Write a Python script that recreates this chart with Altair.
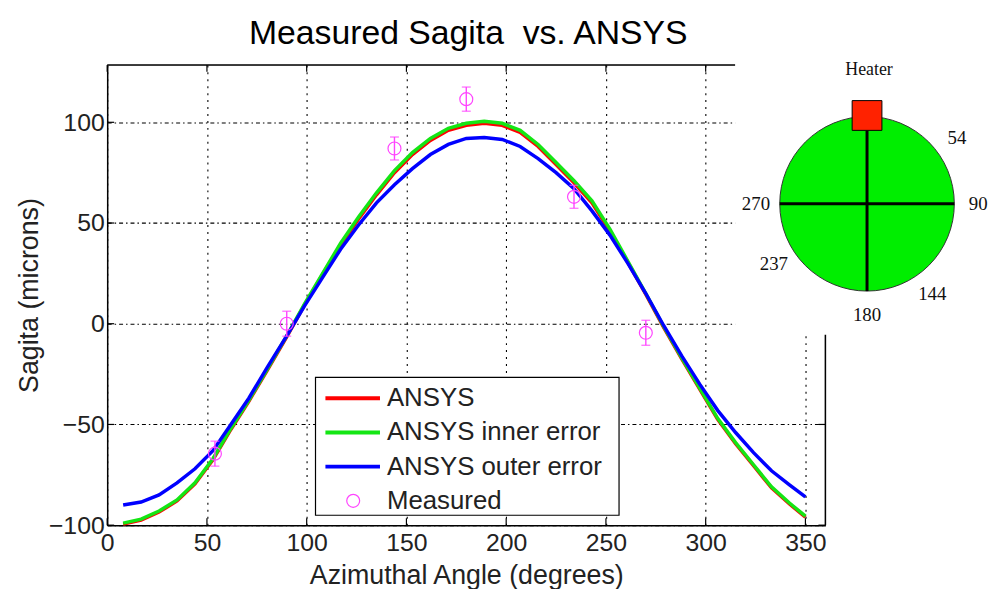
import altair as alt
import pandas as pd

# ---------------- data ----------------
angles = [8, 17, 26, 35, 44, 53, 62, 71, 80, 90, 99, 108, 117, 126, 135, 144, 153, 162, 171,
          180, 189, 198, 207, 216, 225, 234, 243, 252, 261, 270, 279, 288, 297, 306, 315, 324,
          333, 342, 350]
ansys = [-99.5, -97.5, -93.5, -88, -79.5, -67.5, -52.5, -38.5, -23.5, -6.5, 9.5, 24.5, 39, 52,
         64, 75, 84, 91, 96, 98.5, 99.5, 98.5, 95, 88, 79, 70, 60, 46, 30.5, 14.5, -2, -17.5,
         -32.5, -47.5, -59.5, -70.5, -81.5, -89.5, -96]
inner = [-99, -97, -93, -87.5, -79, -67, -52, -38, -23, -6, 10, 25, 40, 53, 65, 76, 85, 92, 97,
         99.5, 100.5, 99.5, 96, 89, 80, 71, 61, 47, 31, 15, -1.5, -17, -32, -47, -59, -70, -81,
         -89, -95.5]
outer = [-90, -88.5, -85, -79, -72, -63, -50, -37, -22, -6, 9, 23, 37, 49, 60, 69, 77, 84, 89,
         92, 92.5, 91.5, 88, 82, 75, 67, 56, 44, 30, 15, -1, -16, -30, -43, -54, -64, -73, -80,
         -86]

meas_angle = [54, 90, 144, 180, 234, 270]
meas_value = [-64.5, 0, 87, 111.5, 63, -4.5]
meas_err = [6.2, 6.2, 5.7, 6.0, 5.7, 6.2]

series_names = ["ANSYS", "ANSYS inner error", "ANSYS outer error"]
series_colors = ["#ff0000", "#14e614", "#0000ff"]
meas_name = "Measured"
meas_color = "#ff44ff"

x_ticks = [0, 50, 100, 150, 200, 250, 300, 350]
y_ticks = [-100, -50, 0, 50, 100]
x_domain = [0, 360]
y_domain = [-100, 128.5]

title_text = "Measured Sagita\u00a0 vs. ANSYS"
x_title = "Azimuthal Angle (degrees)"
y_title = "Sagita (microns)"

dial_labels = ["54", "90", "144", "180", "237", "270"]
dial_angles = [54, 90, 144, 180, 237, 270]
heater_label = "Heater"

# ---------------- layout ----------------
W, H = 724, 464
FONT = "Liberation Sans"
SERIF = "Liberation Serif"

x_axis = alt.Axis(values=x_ticks, grid=True, gridDash=[2, 5], gridColor="black", gridWidth=1.1,
                  gridOpacity=1, domainColor="black", domainWidth=1.5, ticks=False,
                  labelFontSize=25, labelFont=FONT, labelColor="#222", labelPadding=6,
                  labelFlush=False, titleFont=FONT, titleFontSize=27, titleFontWeight="normal",
                  titleColor="#222", titleY=59, titleBaseline="alphabetic")
y_axis = alt.Axis(values=y_ticks, grid=True, gridDash=[4, 3, 1.5, 3], gridColor="black",
                  gridWidth=1.1, gridOpacity=1, domainColor="black", domainWidth=1.5,
                  ticks=False, labelFontSize=25, labelFont=FONT, labelColor="#222",
                  labelPadding=3, labelFlush=False, titleFont=FONT, titleFontSize=27,
                  titleFontWeight="normal", titleColor="#222", titleX=-70, titleY=H / 2,
                  titleBaseline="alphabetic")


def X(field):
    return alt.X(field, type="quantitative", scale=alt.Scale(domain=x_domain, nice=False, zero=False),
                 axis=x_axis, title=x_title)


def Y(field):
    return alt.Y(field, type="quantitative", scale=alt.Scale(domain=y_domain, nice=False, zero=False),
                 axis=y_axis, title=y_title)


layers = []

# curves
for name, vals, col in zip(series_names, [ansys, inner, outer], series_colors):
    df = pd.DataFrame({"angle": angles, "value": vals})
    layers.append(alt.Chart(df).mark_line(color=col, strokeWidth=3.5).encode(x=X("angle"), y=Y("value")))

# measured
mdf = pd.DataFrame({"angle": meas_angle, "value": meas_value, "err": meas_err})
layers.append(
    alt.Chart(mdf).transform_calculate(lo="datum.value - datum.err", hi="datum.value + datum.err")
    .mark_errorbar(ticks=True, size=9, thickness=1.4, color=meas_color)
    .encode(x=X("angle"), y=Y("lo"), y2="hi:Q")
)
layers.append(
    alt.Chart(mdf).mark_point(shape="circle", filled=False, size=170, strokeWidth=1.2, color=meas_color,
                              opacity=1).encode(x=X("angle"), y=Y("value"))
)

# inward ticks
xt = pd.DataFrame({"v": x_ticks})
yt = pd.DataFrame({"v": y_ticks})
layers.append(alt.Chart(xt).mark_rule(color="black", strokeWidth=1.2)
              .encode(x=X("v"), y=alt.value(H), y2=alt.value(H - 7)))
layers.append(alt.Chart(xt).mark_rule(color="black", strokeWidth=1.2)
              .encode(x=X("v"), y=alt.value(0), y2=alt.value(7)))
layers.append(alt.Chart(yt).mark_rule(color="black", strokeWidth=1.2)
              .encode(y=Y("v"), x=alt.value(0), x2=alt.value(7)))
layers.append(alt.Chart(yt).mark_rule(color="black", strokeWidth=1.2)
              .encode(y=Y("v"), x=alt.value(W), x2=alt.value(W - 7)))

one = pd.DataFrame({"k": [0]})
# top / right border
layers.append(alt.Chart(one).mark_rule(color="black", strokeWidth=1.5)
              .encode(x=alt.value(0), x2=alt.value(W), y=alt.value(0)))
layers.append(alt.Chart(one).mark_rule(color="black", strokeWidth=1.5)
              .encode(x=alt.value(W), y=alt.value(0), y2=alt.value(H)))

# title (as text so it can sit exactly above the plot)
layers.append(alt.Chart(one).mark_text(font=FONT, fontSize=34, color="black", baseline="alphabetic",
                                       align="center")
              .encode(x=alt.value(W / 2 + 2), y=alt.value(-21), text=alt.value(title_text)))

# legend (drawn inside the plot, MATLAB style)
LX0, LX1, LY0, LY1 = 210, 516, 315, 454
ROW0, ROWH = 336, 34.5
layers.append(alt.Chart(one).mark_rect(fill="white", stroke="black", strokeWidth=1.2)
              .encode(x=alt.value(LX0), x2=alt.value(LX1), y=alt.value(LY0), y2=alt.value(LY1)))
ldf = pd.DataFrame({"name": series_names, "col": series_colors, "i": list(range(len(series_names)))})
layers.append(alt.Chart(ldf).transform_calculate(ly=f"{ROW0} + {ROWH} * datum.i")
              .mark_rule(strokeWidth=4)
              .encode(x=alt.value(220), x2=alt.value(275), y=alt.Y("ly:Q", scale=None, axis=None),
                      color=alt.Color("col:N", scale=None)))
ltxt = pd.DataFrame({"name": series_names + [meas_name], "i": list(range(len(series_names) + 1))})
layers.append(alt.Chart(ltxt).transform_calculate(ly=f"{ROW0} + {ROWH} * datum.i")
              .mark_text(align="left", baseline="middle", font=FONT, fontSize=26, color="#222")
              .encode(x=alt.value(282), y=alt.Y("ly:Q", scale=None, axis=None), text="name:N"))
layers.append(alt.Chart(one).mark_point(shape="circle", filled=False, size=170, strokeWidth=1.2,
                                        color=meas_color, opacity=1)
              .encode(x=alt.value(248), y=alt.value(ROW0 + 3 * ROWH)))

# inset: heater diagram
CX, CY, R = 766, 140, 88
layers.append(alt.Chart(one).mark_rect(fill="white")
              .encode(x=alt.value(633), x2=alt.value(900), y=alt.value(-20), y2=alt.value(272)))
layers.append(alt.Chart(one).mark_point(shape="circle", filled=True, size=(2 * R) ** 2, fill="#00ee00",
                                        stroke="#333", strokeWidth=1, opacity=1)
              .encode(x=alt.value(CX), y=alt.value(CY)))
layers.append(alt.Chart(one).mark_rule(color="black", strokeWidth=3)
              .encode(x=alt.value(CX - R), x2=alt.value(CX + R), y=alt.value(CY)))
layers.append(alt.Chart(one).mark_rule(color="black", strokeWidth=3)
              .encode(x=alt.value(CX), y=alt.value(CY - R + 14), y2=alt.value(CY + R)))
layers.append(alt.Chart(one).mark_point(shape="square", filled=True, size=900, fill="#ff2200",
                                        stroke="black", strokeWidth=1, opacity=1)
              .encode(x=alt.value(CX), y=alt.value(CY - R - 1)))
layers.append(alt.Chart(one).mark_text(font=SERIF, fontSize=18, color="#111", baseline="middle")
              .encode(x=alt.value(CX + 2), y=alt.value(5), text=alt.value(heater_label)))
ddf = pd.DataFrame({"lab": dial_labels, "a": dial_angles})
layers.append(alt.Chart(ddf)
              .transform_calculate(lx=f"{CX} + 112 * sin(datum.a * PI / 180)",
                                   ly=f"{CY} - 112 * cos(datum.a * PI / 180)")
              .mark_text(font=SERIF, fontSize=19, color="#111", baseline="middle", align="center")
              .encode(x=alt.X("lx:Q", scale=None, axis=None), y=alt.Y("ly:Q", scale=None, axis=None),
                      text="lab:N"))

chart = alt.layer(*layers).properties(
    width=W, height=H,
    autosize=alt.AutoSizeParams(type="none"),
    padding={"left": 100, "top": 55, "right": 170, "bottom": 62},
).configure_view(stroke=None).configure(background="white")

chart.save("out.html", embed_options={"renderer": "svg", "actions": False})
